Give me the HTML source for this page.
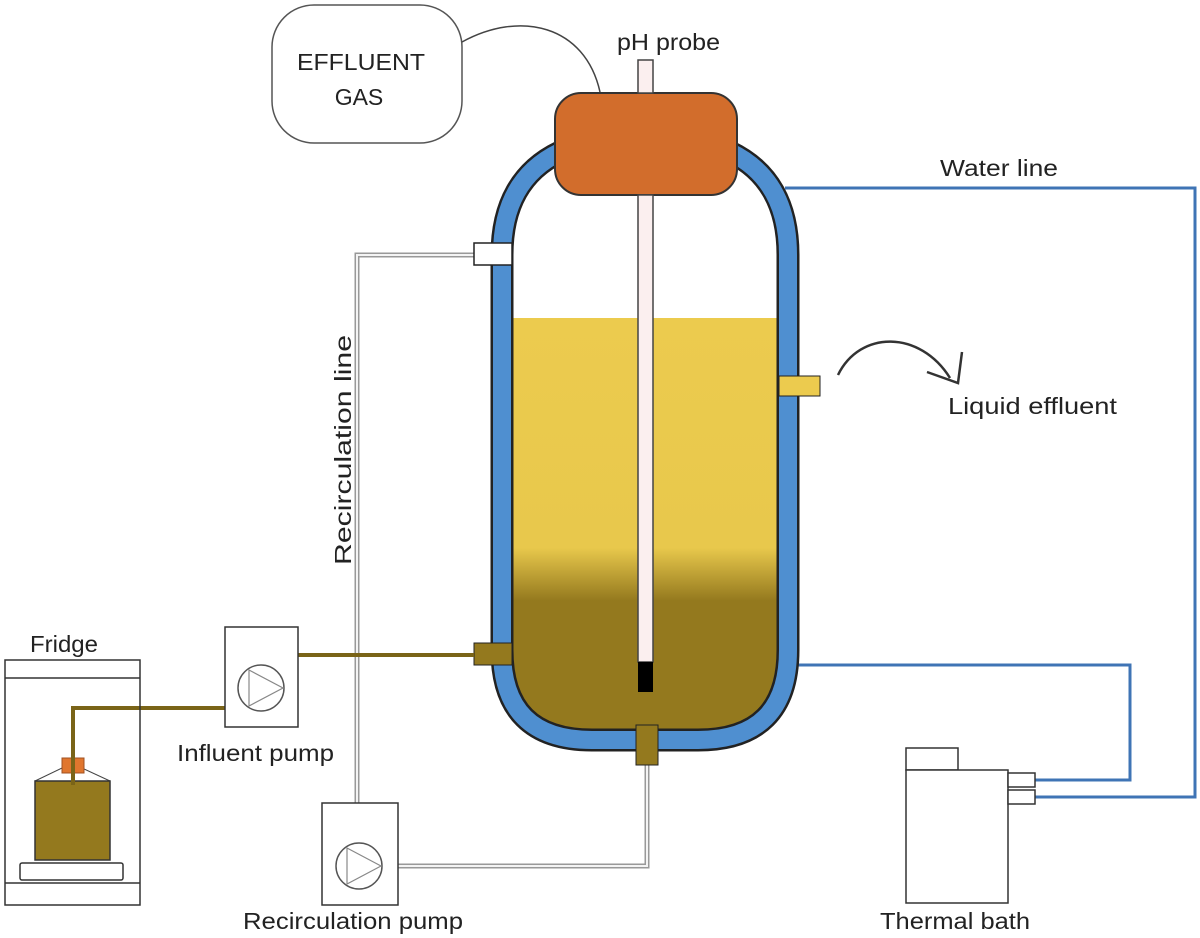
<!DOCTYPE html>
<html><head><style>html,body{margin:0;padding:0;background:#fff}svg{display:block}text{font-family:"Liberation Sans",sans-serif;fill:#222}</style></head>
<body>
<svg width="1200" height="938" viewBox="0 0 1200 938" xmlns="http://www.w3.org/2000/svg">
<defs>
<linearGradient id="g" gradientUnits="userSpaceOnUse" x1="0" y1="318" x2="0" y2="760">
<stop offset="0" stop-color="#ECCB4E"/><stop offset="0.52" stop-color="#E8C84C"/><stop offset="0.64" stop-color="#94791E"/><stop offset="1" stop-color="#94791E"/>
</linearGradient>
</defs>
<!-- effluent gas -->
<rect x="272" y="5" width="190" height="138" rx="42" fill="#fff" stroke="#555" stroke-width="1.5"/>
<text x="361" y="70" font-size="23" text-anchor="middle" fill="#444" textLength="128" lengthAdjust="spacingAndGlyphs">EFFLUENT</text>
<text x="359" y="105" font-size="23" text-anchor="middle" fill="#444">GAS</text>
<path d="M462,42 C520,10 585,25 600,92" fill="none" stroke="#444" stroke-width="1.5"/>
<text x="617" y="50" font-size="23" textLength="103" lengthAdjust="spacingAndGlyphs">pH probe</text>
<!-- water lines -->
<path d="M785,188 H1195 V797 H1035" fill="none" stroke="#3F74B5" stroke-width="3"/>
<path d="M797,665 H1130 V780 H1035" fill="none" stroke="#3F74B5" stroke-width="3"/>
<text x="940" y="176" font-size="23" textLength="118" lengthAdjust="spacingAndGlyphs">Water line</text>
<!-- recirculation line -->
<path d="M474,255 H357 V803" fill="none" stroke="#999" stroke-width="5"/>
<path d="M474,255 H357 V803" fill="none" stroke="#f4f4f4" stroke-width="2"/>
<path d="M398,866 H647 V765" fill="none" stroke="#999" stroke-width="5"/>
<path d="M398,866 H647 V765" fill="none" stroke="#f4f4f4" stroke-width="2"/>
<text transform="translate(351,450) rotate(-90)" font-size="23" text-anchor="middle" textLength="230" lengthAdjust="spacingAndGlyphs">Recirculation line</text>
<!-- inner liquid -->
<path d="M512,318 H778 V660 Q778,730 708,730 H582 Q512,730 512,660 Z" fill="url(#g)"/>
<!-- reactor wall -->
<path d="M560,152 Q502,180 502,255 V650 Q502,740 592,740 H698 Q788,740 788,650 V255 Q788,180 730,152" fill="none" stroke="#222" stroke-width="23"/>
<path d="M560,152 Q502,180 502,255 V650 Q502,740 592,740 H698 Q788,740 788,650 V255 Q788,180 730,152" fill="none" stroke="#4F8FD0" stroke-width="18"/>
<!-- ports -->
<rect x="474" y="243" width="38" height="22" fill="#fff" stroke="#222" stroke-width="1.5"/>
<rect x="474" y="643" width="38" height="22" fill="#94791E" stroke="#222" stroke-width="1"/>
<rect x="636" y="725" width="22" height="40" fill="#94791E" stroke="#222" stroke-width="1"/>
<rect x="779" y="376" width="41" height="20" fill="#ECCB4E" stroke="#222" stroke-width="1"/>
<!-- cap -->
<rect x="555" y="93" width="182" height="102" rx="26" fill="#D26D2C" stroke="#333" stroke-width="2"/>
<!-- probe -->
<rect x="638" y="60" width="15" height="33" fill="#FBEFEF" stroke="#444" stroke-width="1.5"/>
<rect x="638" y="195" width="15" height="467" fill="#FBEFEF" stroke="#444" stroke-width="1.5"/>
<rect x="638" y="662" width="15" height="30" fill="#000"/>
<!-- liquid effluent arrow -->
<path d="M838,375 C860,330 920,330 950,378" fill="none" stroke="#333" stroke-width="2.5"/>
<path d="M927,372 L958,383 L962,352" fill="none" stroke="#333" stroke-width="2.5"/>
<text x="948" y="414" font-size="23" textLength="169" lengthAdjust="spacingAndGlyphs">Liquid effluent</text>
<!-- influent line -->
<path d="M298,655 H474" stroke="#7A6418" stroke-width="4" fill="none"/>
<path d="M225,708 H73 V760" stroke="#7A6418" stroke-width="4" fill="none"/>
<!-- fridge -->
<rect x="5" y="660" width="135" height="245" fill="none" stroke="#333" stroke-width="1.5"/>
<line x1="5" y1="678" x2="140" y2="678" stroke="#333" stroke-width="1.5"/>
<line x1="5" y1="883" x2="140" y2="883" stroke="#333" stroke-width="1.5"/>
<rect x="20" y="863" width="103" height="17" rx="2" fill="#fff" stroke="#333" stroke-width="1.5"/>
<path d="M35,781 L62,768 L82,768 L110,781" fill="none" stroke="#444" stroke-width="1"/>
<rect x="35" y="781" width="75" height="79" fill="#94791E" stroke="#333" stroke-width="1.5"/>
<rect x="62" y="758" width="22" height="15" fill="#E0762E" stroke="#a05020" stroke-width="1"/>
<line x1="73" y1="708" x2="73" y2="785" stroke="#7A6418" stroke-width="4"/>
<text x="30" y="652" font-size="23" textLength="68" lengthAdjust="spacingAndGlyphs">Fridge</text>
<!-- influent pump -->
<rect x="225" y="627" width="73" height="100" fill="#fff" stroke="#333" stroke-width="1.5"/>
<circle cx="261" cy="688" r="23" fill="none" stroke="#555" stroke-width="1.5"/>
<path d="M249,670 L283,688 L249,706 Z" fill="none" stroke="#888" stroke-width="1.2"/>
<text x="177" y="761" font-size="23" textLength="157" lengthAdjust="spacingAndGlyphs">Influent pump</text>
<!-- recirculation pump -->
<rect x="322" y="803" width="76" height="102" fill="#fff" stroke="#333" stroke-width="1.5"/>
<circle cx="359" cy="866" r="23" fill="none" stroke="#555" stroke-width="1.5"/>
<path d="M347,848 L381,866 L347,884 Z" fill="none" stroke="#888" stroke-width="1.2"/>
<text x="243" y="929" font-size="23" textLength="220" lengthAdjust="spacingAndGlyphs">Recirculation pump</text>
<!-- thermal bath -->
<rect x="906" y="748" width="52" height="22" fill="#fff" stroke="#333" stroke-width="1.5"/>
<rect x="906" y="770" width="102" height="133" fill="#fff" stroke="#333" stroke-width="1.5"/>
<rect x="1008" y="773" width="27" height="14" fill="#fff" stroke="#333" stroke-width="1.5"/>
<rect x="1008" y="790" width="27" height="14" fill="#fff" stroke="#333" stroke-width="1.5"/>
<text x="880" y="929" font-size="23" textLength="150" lengthAdjust="spacingAndGlyphs">Thermal bath</text>
</svg>
</body></html>
